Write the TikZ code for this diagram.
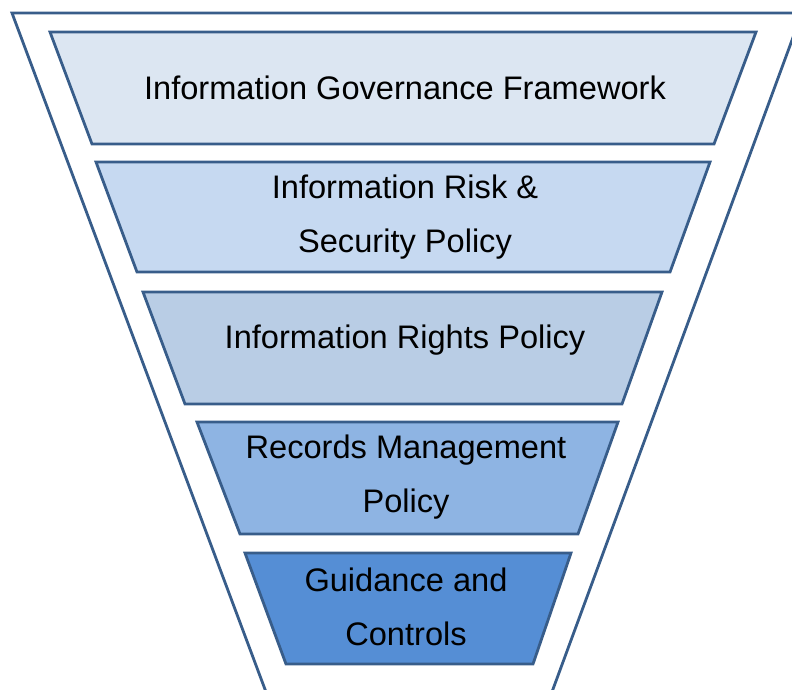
\documentclass[tikz,border=0pt]{standalone}
\usepackage{fontspec}
\setmainfont{Liberation Sans}
\definecolor{edge}{RGB}{56,93,138}
\definecolor{fillA}{RGB}{220,230,242}
\definecolor{fillB}{RGB}{198,217,241}
\definecolor{fillC}{RGB}{185,205,229}
\definecolor{fillD}{RGB}{142,180,227}
\definecolor{fillE}{RGB}{85,142,213}
\tikzset{
  layer/.style={draw=edge, line width=2.8pt, line join=miter},
  label/.style={font=\fontsize{32.6}{54}\selectfont, align=center, text=black, inner sep=0pt}
}
\begin{document}
\begin{tikzpicture}[x=1pt,y=-1pt]
\useasboundingbox (0,0) rectangle (792,689);
\begin{scope}
\clip (0,0) rectangle (792,689);
\draw[edge, line width=2.8pt, line join=miter] (269,700) -- (12,13) -- (802,13) -- (549,700);
\end{scope}
\path[layer, fill=fillA] (50,32) -- (756,32) -- (714,144) -- (92,144) -- cycle;
\path[layer, fill=fillB] (96,162) -- (710,162) -- (670,272) -- (137,272) -- cycle;
\path[layer, fill=fillC] (143,292) -- (662,292) -- (622,404) -- (185,404) -- cycle;
\path[layer, fill=fillD] (197,422) -- (618,422) -- (578,534) -- (240,534) -- cycle;
\path[layer, fill=fillE] (245,553) -- (571,553) -- (533,664) -- (286,664) -- cycle;
\node[label] (t1) at (405,88) {Information Governance Framework};
\node[label] (t2) at (405,217) {Information Risk \&\\Security Policy};
\node[label] (t3) at (405,340) {Information Rights Policy};
\node[label] (t4) at (406,477) {Records Management\\Policy};
\node[label] (t5) at (406,607) {Guidance and\\Controls};
\end{tikzpicture}
\end{document}
